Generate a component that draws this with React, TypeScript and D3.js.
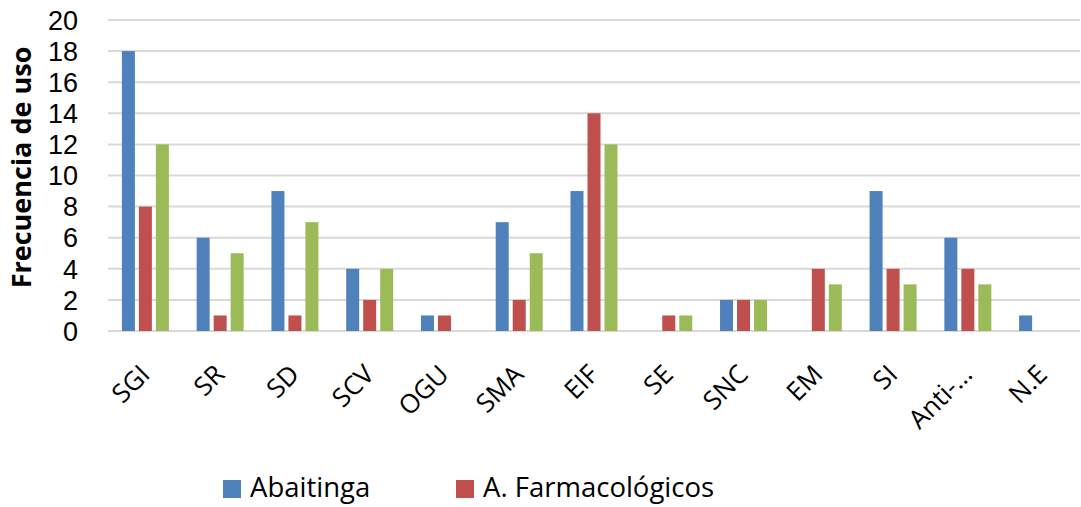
import React from "react";
import * as d3 from "d3";

const categories = ["SGI", "SR", "SD", "SCV", "OGU", "SMA", "EIF", "SE", "SNC", "EM", "SI", "Anti-…", "N.E"];
const seriesNames = ["Abaitinga", "A. Farmacológicos", "Otros"];
const abaitinga = [18, 6, 9, 4, 1, 7, 9, 0, 2, 0, 9, 6, 1];
const farmacologicos = [8, 1, 1, 2, 1, 2, 14, 1, 2, 4, 4, 4, 0];
const otros = [12, 5, 7, 4, 0, 5, 12, 1, 2, 3, 3, 3, 0];
const colors = ["#4F81BD", "#C0504D", "#9BBB59"];
const yTicks = [0, 2, 4, 6, 8, 10, 12, 14, 16, 18, 20];
const legendShown = [0, 1];

export default function App() {
  const W = 1081, H = 507;
  const left = 108, right = 1080, top = 20, bottom = 331;
  const x = d3.scaleBand<string>().domain(categories).range([left, right]);
  const y = d3.scaleLinear().domain([0, 20]).range([bottom, top]);
  const series = [abaitinga, farmacologicos, otros];
  const barW = 13, gap = 4;
  const groupW = barW * 3 + gap * 2;
  const font = "'Open Sans', sans-serif";
  const tickFont = "'Liberation Sans', Arial, sans-serif";
  return (
    <svg width={W} height={H} style={{ position: "absolute", left: 0, top: 0 }}>
      <rect x={0} y={0} width={W} height={H} fill="#fff" />
      {yTicks.map((t) => (
        <line key={t} x1={left} x2={right} y1={y(t)} y2={y(t)} stroke="#d9d9d9" strokeWidth={2} />
      ))}
      {yTicks.map((t) => (
        <text key={"l" + t} x={78} y={y(t)} dy="0.36em" textAnchor="end" fontSize={27} fontFamily={tickFont} fill="#000">
          {t}
        </text>
      ))}
      <text
        transform={`translate(31, 167.5) rotate(-90)`}
        textAnchor="middle"
        fontSize={27}
        fontWeight="bold"
        fontFamily={font}
        fill="#000"
      >
        Frecuencia de uso
      </text>
      {categories.map((c, i) => {
        const cx = x(c)! + x.bandwidth() / 2;
        return (
          <g key={c}>
            {series.map((s, k) =>
              s[i] > 0 ? (
                <rect
                  key={k}
                  x={cx - groupW / 2 + k * (barW + gap)}
                  y={y(s[i])}
                  width={barW}
                  height={y(0) - y(s[i])}
                  fill={colors[k]}
                />
              ) : null
            )}
            <text
              transform={`translate(${cx + 6}, 376) rotate(-45)`}
              textAnchor="end"
              fontSize={26}
              fontFamily={font}
              fill="#000"
            >
              {c}
            </text>
          </g>
        );
      })}
      {legendShown.map((k, j) => {
        const lx = [223, 456][j];
        return (
          <g key={k}>
            <rect x={lx} y={480} width={18} height={18} fill={colors[k]} />
            <text x={lx + 27} y={497} fontSize={27.5} fontFamily={font} fill="#000">
              {seriesNames[k]}
            </text>
          </g>
        );
      })}
    </svg>
  );
}
